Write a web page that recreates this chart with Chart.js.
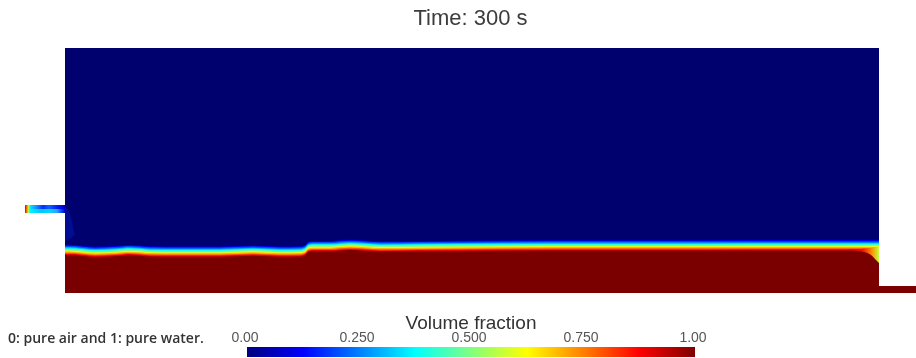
<!DOCTYPE html>
<html>
<head>
<meta charset="utf-8">
<title>Time: 300 s</title>
<script src="https://cdn.jsdelivr.net/npm/chart.js@4.4.1/dist/chart.umd.min.js"></script>
<style>
    html, body { margin: 0; padding: 0; background: #fff; }
    #wrap { position: relative; width: 916px; height: 358px; overflow: hidden; }
    #field { position: absolute; left: 0; top: 0; }
    #colorbar { position: absolute; left: 0; top: 300px; }
    #note { position: absolute; left: 8px; top: 330px; font: 600 14px "Open Sans", sans-serif; color: #333; line-height: 16px; white-space: nowrap; }
</style>
</head>
<body>
<div id="wrap">
    <canvas id="field" width="916" height="300"></canvas>
    <canvas id="colorbar" width="916" height="58"></canvas>
    <div id="note">0: pure air and 1: pure water.</div>
</div>
<script>
// geometry of the domain (same units on both axes, tank bottom-left = 0,0)
const tankX = [0, 814];
const tankTopH = [245, 245];
const inletX = [-40, 0];
const inletTopH = [88, 88];
const inletMidH = [84, 84];
const inletBaseH = [80, 80];
const outletX = [814, 851];
const outletTopH = [7, 7];

// air/water interface (0.5 contour)
const interfaceX = [0, 10, 30, 50, 65, 85, 115, 155, 188, 215, 235, 240, 244, 250, 265, 285, 300, 315, 355, 435, 535, 635, 735, 785, 814];
const interfaceH = [43.7, 43.5, 41.8, 42.5, 43.5, 42.2, 42.0, 42.0, 43.0, 42.0, 42.2, 43.5, 47.0, 47.5, 47.5, 48.7, 48.0, 47.2, 47.5, 48.0, 48.2, 48.2, 48.3, 48.3, 48.3];

// mixing zone against the right wall
const wallDipX = [784, 794, 801, 806, 810, 814];
const wallDipTopH = [43.2, 43.8, 44.5, 45, 45.5, 46];
const wallDipBottomH = [42.8, 41.8, 40.5, 38, 34, 30];

// jet falling down the left wall below the inlet
const plumeX = [0, 3, 6, 8, 10];
const plumeTopH = [86, 84, 76, 66, 58];
const plumeBottomH = [52, 53, 55, 57, 58];

// colour bar
const colorbarTicks = [0, 0.25, 0.5, 0.75, 1];
const colorbarLabels = ['0.00', '0.250', '0.500', '0.750', '1.00'];
const colorbarTitle = 'Volume fraction';

const X_MIN = -40, X_MAX = 851, Y_MAX = 245;
const AIR = '#00006f';
const WATER = '#7a0000';

const jetStops = [[0, '#00007f'], [0.125, '#0000ff'], [0.375, '#00ffff'], [0.625, '#ffff00'], [0.875, '#ff0000'], [1, '#7f0000']];

// contour layers of the interface band: shift in px above the 0.5 contour
const bandLevels = [
    { shift: 4.6, color: '#0000e6' },
    { shift: 3.45, color: '#004dff' },
    { shift: 2.3, color: '#00b3ff' },
    { shift: 1.15, color: '#1affe6' },
    { shift: 0, color: '#80ff80' },
    { shift: -1.15, color: '#e6ff1a' },
    { shift: -2.3, color: '#ffb300' },
    { shift: -3.45, color: '#ff4d00' },
    { shift: -4.6, color: '#e60000' },
    { shift: -5.75, color: WATER }
];

const inletUpperStops = [[0, '#cc0000'], [0.05, '#ff8000'], [0.09, '#c0ff40'], [0.14, '#00e0ff'], [0.3, '#2080ff'], [0.45, '#0030ff'], [0.6, '#1060ff'], [0.8, '#0020ff'], [1, '#0000c0']];
const inletLowerStops = [[0, '#cc0000'], [0.05, '#ff9000'], [0.09, '#a0ff60'], [0.14, '#00f0ff'], [0.4, '#00c8ff'], [0.6, '#00d8ff'], [0.8, '#30a0ff'], [0.92, '#0040ff'], [1, '#0000c0']];
const wallDipStops = [[0, '#b00000'], [0.45, '#f01000'], [0.75, '#ff8800'], [1, '#c8ff40']];

Chart.defaults.font.family = '"Liberation Sans", Arial, sans-serif';

const pts = (xs, ys) => xs.map((x, i) => ({ x, y: ys[i] }));

function xGradient(chart, x0, x1, stops) {
    const scale = chart.scales.x;
    if (!scale || !chart.chartArea) return null;
    const g = chart.ctx.createLinearGradient(scale.getPixelForValue(x0), 0, scale.getPixelForValue(x1), 0);
    stops.forEach(([p, c]) => g.addColorStop(p, c));
    return g;
}

function area(data, color, order, extra) {
    return Object.assign({
        data, backgroundColor: color, borderWidth: 0, pointRadius: 0,
        fill: 'start', order, cubicInterpolationMode: 'monotone'
    }, extra || {});
}

const datasets = [];
datasets.push(area(pts(tankX, tankTopH), AIR, 100));

const bandScales = {};
bandLevels.forEach((lvl, i) => {
    const id = 'band' + i;
    bandScales[id] = { type: 'linear', display: false, min: -lvl.shift, max: Y_MAX - lvl.shift };
    datasets.push(area(pts(interfaceX, interfaceH), lvl.color, 90 - i, { yAxisID: id }));
});

datasets.push(area(pts(wallDipX, wallDipTopH), (c) => xGradient(c.chart, 784, 814, wallDipStops), 50, { fill: '+1' }));
datasets.push(area(pts(wallDipX, wallDipBottomH), 'transparent', 51, { fill: false }));

datasets.push(area(pts(plumeX, plumeTopH), 'rgba(0, 40, 230, 0.3)', 40, { fill: '+1' }));
datasets.push(area(pts(plumeX, plumeBottomH), 'transparent', 41, { fill: false }));

datasets.push(area(pts(inletX, inletTopH), (c) => xGradient(c.chart, -40, 0, inletUpperStops), 30, { fill: '+1' }));
datasets.push(area(pts(inletX, inletMidH), (c) => xGradient(c.chart, -40, 0, inletLowerStops), 31, { fill: '+1' }));
datasets.push(area(pts(inletX, inletBaseH), 'transparent', 32, { fill: false }));

datasets.push(area(pts(outletX, outletTopH), WATER, 30));

new Chart(document.getElementById('field'), {
    type: 'line',
    data: { datasets },
    options: {
        responsive: false,
        animation: false,
        events: [],
        layout: { padding: { left: 25, right: 0, top: 0, bottom: 7 } },
        scales: Object.assign({
            x: { type: 'linear', display: false, min: X_MIN, max: X_MAX },
            y: { type: 'linear', display: false, min: 0, max: Y_MAX }
        }, bandScales),
        plugins: {
            legend: { display: false },
            tooltip: { enabled: false },
            title: {
                display: true,
                text: 'Time: 300 s',
                fullSize: false,
                color: '#3c3c3c',
                font: { size: 22, weight: 'normal' },
                padding: { top: 6, bottom: 15.6 }
            }
        }
    }
});

// tick labels and title of the colour bar, placed with the bar's own x scale
const colorbarText = {
    id: 'colorbarText',
    afterDraw(chart) {
        const { ctx, scales: { x } } = chart;
        ctx.save();
        ctx.textAlign = 'center';
        ctx.textBaseline = 'alphabetic';
        ctx.fillStyle = '#555';
        ctx.font = '14px "Liberation Sans", Arial, sans-serif';
        colorbarTicks.forEach((v, i) => ctx.fillText(colorbarLabels[i], x.getPixelForValue(v) - 2, 42));
        ctx.fillStyle = '#333';
        ctx.font = '19px "Liberation Sans", Arial, sans-serif';
        ctx.fillText(colorbarTitle, x.getPixelForValue(0.5), 28.5);
        ctx.restore();
    }
};

new Chart(document.getElementById('colorbar'), {
    type: 'bar',
    data: {
        labels: [colorbarTitle],
        datasets: [{
            data: [[0, 1]],
            backgroundColor: (c) => xGradient(c.chart, 0, 1, jetStops),
            borderWidth: 0,
            borderSkipped: false,
            barPercentage: 1,
            categoryPercentage: 1
        }]
    },
    options: {
        indexAxis: 'y',
        responsive: false,
        animation: false,
        events: [],
        layout: { padding: { left: 247, right: 221, top: 47, bottom: 1 } },
        scales: {
            x: { type: 'linear', display: false, min: 0, max: 1 },
            y: { display: false }
        },
        plugins: { legend: { display: false }, tooltip: { enabled: false } }
    },
    plugins: [colorbarText]
});
</script>
</body>
</html>
